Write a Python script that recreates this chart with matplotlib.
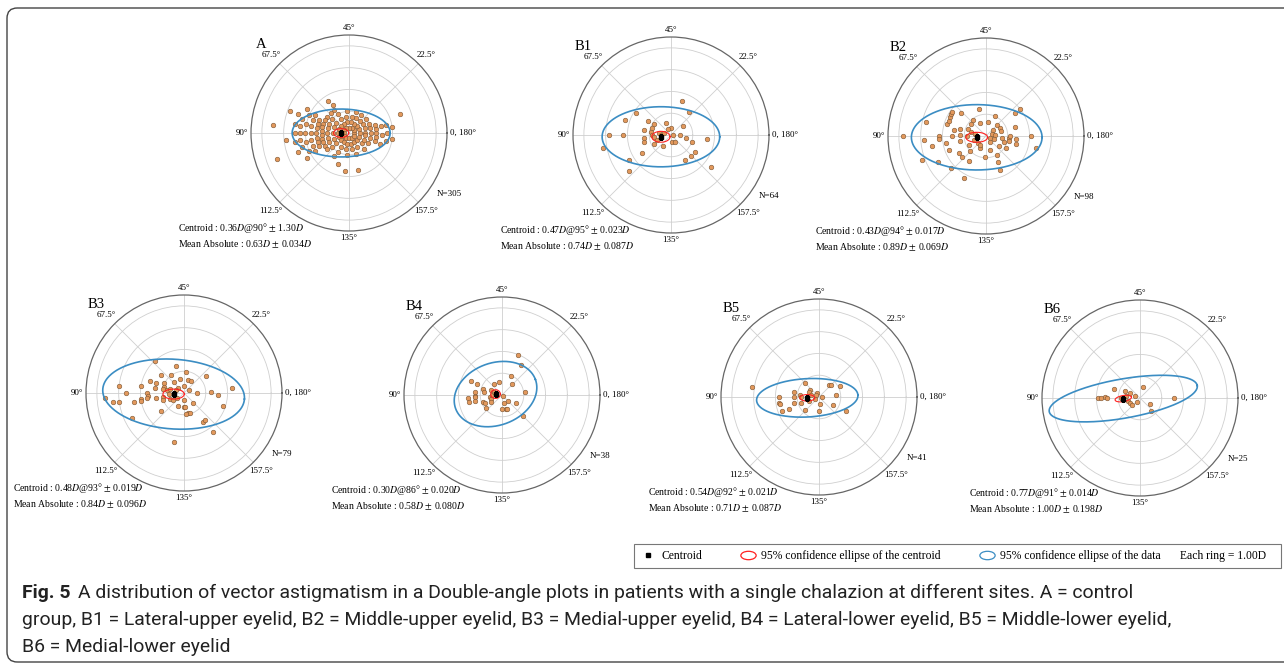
import numpy as np
import matplotlib
matplotlib.use('Agg')
import matplotlib.pyplot as plt
from matplotlib.patches import FancyBboxPatch, Rectangle
from matplotlib.lines import Line2D
from matplotlib.path import Path
from matplotlib.transforms import Affine2D

plt.rcParams['font.family'] = ['Liberation Serif', 'DejaVu Serif']
plt.rcParams['mathtext.fontset'] = 'stix'

W, H = 1284, 666
R = 98          # circle radius in px
RMAX = 4.5      # outer circle in D
RINGS = [1, 2, 3, 4]

# ---- panel summary values ----
names = ['A', 'B1', 'B2', 'B3', 'B4', 'B5', 'B6']
counts = [305, 64, 98, 79, 38, 41, 25]
cen_mag = [0.36, 0.47, 0.43, 0.48, 0.30, 0.54, 0.77]
cen_axis = [90, 95, 94, 93, 86, 92, 91]
cen_err = ['1.30', '0.023', '0.017', '0.019', '0.020', '0.021', '0.014']
mean_abs = ['0.63', '0.74', '0.89', '0.84', '0.58', '0.71', '1.00']
mean_err = ['0.034', '0.087', '0.069', '0.096', '0.080', '0.087', '0.198']

# 95% ellipses (semi axes in D, rotation in deg)
data_ell_a = [2.25, 2.7, 3.0, 3.26, 1.95, 2.33, 3.45]
data_ell_b = [1.1, 1.38, 1.5, 1.6, 1.43, 0.88, 0.9]
data_ell_ang = [0, 0, 0, -4, 20, 3, 10]
cen_ell_a = [0.35, 0.42, 0.5, 0.49, 0.22, 0.34, 0.38]
cen_ell_b = [0.2, 0.25, 0.23, 0.23, 0.2, 0.15, 0.14]
cen_ell_ang = [0, 0, 0, 0, 0, 0, 10]

grid_theta = [0, 45, 90, 135, 180, 225, 270, 315]
grid_text = ['0, 180°', '22.5°', '45°', '67.5°', '90°', '112.5°', '135°', '157.5°']

# ---- individual eyes ----
# control group: (magnitude D, list of axes in deg)
a_rings = [
    (0.25, [0, 15, 30, 45, 60, 75, 90, 105, 120, 135, 150, 165]),
    (0.5, [0, 10, 20, 30, 40, 50, 60, 70, 80, 90, 100, 110, 120, 130, 140, 150, 160, 170]),
    (0.75, [0, 8, 16, 24, 32, 40, 50, 60, 70, 80, 90, 100, 110, 120, 130, 140, 150, 160, 168, 176]),
    (1.0, [0, 6, 12, 20, 28, 36, 48, 60, 70, 78, 84, 90, 96, 102, 110, 120, 132, 144, 156, 166, 174]),
    (1.25, [62, 66, 72, 76, 80, 84, 88, 92, 96, 100, 104, 108, 118, 172, 176, 0, 4, 8]),
    (1.5, [60, 78, 82, 86, 90, 94, 98, 102, 125, 170, 178, 6]),
    (1.75, [61.5, 76, 80, 85, 90, 95, 100, 104, 132, 142, 174, 0, 6]),
    (2.0, [78, 84, 90, 96, 102, 176, 4]),
    (2.25, [75, 82, 86, 90, 94, 98, 105.5]),
    (2.5, [80, 85, 90, 95, 100, 10]),
    (2.9, [80, 93]),
    (3.5, [87, 100]),
]

# chalazion groups: double-angle components (x, y) in D
b1_pts = [(0.51, 1.57), (0.82, 1.05), (-1.60, 1.03), (-2.11, 0.69), (-1.06, 0.65),
          (-0.80, 0.49), (-0.23, 0.57), (0.02, 0.31), (0.55, 0.42), (-1.22, 0.23),
          (-0.88, 0.31), (-0.91, 0.15), (-0.88, 0.00), (-1.22, -0.15), (-1.22, -0.31),
          (-2.86, 0.00), (-2.22, 0.00), (-0.57, 0.08), (-0.45, 0.00), (-0.15, 0.26),
          (0.09, 0.00), (0.40, 0.00), (0.71, -0.12), (0.98, -0.34), (1.66, -0.18),
          (0.05, -0.34), (0.18, -0.31), (-0.37, -0.51), (-0.80, -0.42), (-1.35, -0.82),
          (-3.14, -0.58), (-1.91, -1.15), (-1.92, -1.66), (0.63, -1.15), (0.94, -0.97),
          (1.09, -0.80), (1.82, -1.46), (-0.77, -0.08), (-0.62, -0.23), (-0.31, 0.08)]

b2_pts = [(-3.80, 0.00), (-2.83, -0.18), (-2.77, 0.62), (-2.49, -0.45), (-2.95, -1.11),
          (-2.18, 0.00), (-2.18, -0.15), (-2.22, -1.18), (-1.83, -0.31), (-1.77, 0.54),
          (-1.72, 0.69), (-1.65, 0.86), (-1.60, 1.00), (-1.54, 1.08), (-1.54, 0.00),
          (-1.49, 0.28), (-1.72, -0.65), (-1.60, -1.49), (-1.26, -0.77), (-1.18, 0.31),
          (-1.18, 0.05), (-1.18, -0.23), (-1.15, 1.05), (-1.11, -0.95), (-1.03, -1.95),
          (-0.88, 0.00), (-0.83, 0.31), (-0.77, -0.42), (-0.72, -0.68), (-0.77, -1.15),
          (-0.69, 0.55), (-0.60, 0.74), (-0.34, 1.23), (-0.26, 0.58), (-0.57, -0.18),
          (-0.38, -0.34), (-0.29, -0.57), (-0.26, -0.42), (-0.03, -0.98), (0.09, 0.66),
          (0.20, -0.62), (0.31, 0.28), (0.28, 0.08), (0.43, 0.92), (0.43, 0.05),
          (0.51, 0.51), (0.66, 0.35), (0.69, 0.25), (0.58, -0.46), (0.51, -0.88),
          (0.54, -1.18), (0.66, -1.54), (0.75, -0.11), (0.82, -0.26), (0.94, -0.57),
          (1.05, -0.11), (1.08, 0.00), (1.05, -0.22), (1.31, 0.43), (1.35, 1.05),
          (1.40, -0.15), (1.40, -0.37), (1.58, 1.25), (2.05, 0.00), (2.31, -0.54),
          (0.17, -0.11), (0.35, -0.15), (0.17, -0.28), (-0.68, 0.20), (-0.49, 0.08)]

b3_pts = [(-1.35, 1.45), (-0.37, 1.26), (0.11, 0.95), (1.02, 0.78), (-1.58, 0.57),
          (-1.06, 0.83), (-0.58, 0.83), (-0.17, 0.65), (0.18, 0.60), (0.31, 0.54),
          (-1.97, 0.34), (-1.28, 0.45), (-0.91, 0.45), (-0.45, 0.51), (-0.02, 0.32),
          (-2.97, 0.32), (-0.91, 0.29), (-0.97, 0.17), (-1.32, 0.22), (-0.28, 0.25),
          (-0.35, 0.14), (0.23, 0.14), (0.60, 0.02), (1.25, 0.06), (1.57, -0.09),
          (2.22, 0.25), (-2.66, 0.02), (-1.71, 0.02), (-1.66, -0.14), (-1.68, -0.25),
          (-1.97, -0.29), (-1.97, -0.37), (-2.28, -0.40), (-1.29, -0.25), (-0.97, -0.17),
          (-0.97, -0.32), (-0.66, -0.29), (-0.51, -0.32), (-0.32, -0.25), (-0.02, -0.32),
          (0.42, -0.45), (-0.28, -0.60), (-0.02, -0.63), (0.03, -0.66), (-1.05, -0.82),
          (0.18, -0.91), (0.26, -0.91), (0.08, -0.98), (1.80, -0.60), (-3.63, -0.25),
          (-3.28, -0.43), (-2.97, -0.40), (-2.40, -1.14), (0.85, -1.32), (0.98, -1.25),
          (1.34, -1.78), (-0.45, -2.25), (-0.69, -0.05), (-0.77, 0.12), (-0.62, 0.18)]

b4_pts = [(0.74, 1.82), (0.89, 1.38), (0.40, 0.89), (0.48, 0.49), (1.05, 0.15),
          (-1.42, 0.65), (-1.14, 0.49), (-0.88, 0.29), (-0.83, 0.15), (-1.22, 0.12),
          (-1.22, -0.03), (-1.23, -0.11), (-1.57, -0.12), (-1.52, -0.31), (-1.22, -0.26),
          (-0.88, -0.31), (-0.80, -0.38), (-0.75, -0.58), (-0.57, -0.08), (-0.52, -0.20),
          (-0.52, -0.31), (-0.37, 0.49), (-0.15, 0.58), (-0.49, 0.23), (0.05, -0.03),
          (0.08, -0.35), (0.28, -0.28), (0.63, -0.35), (0.02, -0.66), (0.20, -0.65),
          (0.25, -0.66), (0.97, -0.97), (-0.46, 0.00), (-0.38, 0.12)]

b5_pts = [(-3.09, 0.46), (-0.62, 0.65), (0.46, 0.57), (0.54, 0.54), (0.95, 0.51),
          (-0.43, 0.34), (-0.48, 0.23), (-0.09, 0.20), (-0.15, 0.11), (0.77, 0.11),
          (-1.15, 0.23), (-1.82, 0.00), (-1.15, 0.00), (-0.85, 0.11), (-0.82, 0.00),
          (0.15, 0.00), (-1.82, -0.28), (-1.78, -0.34), (-1.17, -0.28), (-0.82, -0.28),
          (-0.46, -0.20), (-0.17, -0.08), (0.03, -0.31), (0.65, -0.38), (-1.38, -0.54),
          (-1.69, -0.66), (-0.63, -0.58), (0.00, -0.65), (1.26, -0.65), (-0.54, -0.08),
          (-0.38, 0.08)]

b6_pts = [(-1.94, 0.00), (-1.62, 0.03), (-1.77, 0.00), (-1.51, 0.00), (-1.20, 0.43),
          (-0.69, 0.31), (-0.46, 0.23), (-0.23, 0.08), (-0.54, -0.12), (-0.46, -0.23),
          (-0.38, -0.31), (-0.15, -0.20), (0.12, 0.51), (0.46, -0.26), (0.51, -0.58),
          (1.54, 0.00), (-0.85, 0.00), (-0.62, 0.08), (-0.77, -0.08)]

# ---- layout (px, from top-left) ----
panel_cx = [349, 671, 986, 184, 502, 819, 1140]
panel_cy = [133, 135, 136, 393, 395, 397, 398]


def ellipse_polar(cx, cy, a, b, ang):
    t = np.linspace(0, 2 * np.pi, 361)
    phi = np.radians(ang)
    x = cx + a * np.cos(t) * np.cos(phi) - b * np.sin(t) * np.sin(phi)
    y = cy + a * np.cos(t) * np.sin(phi) + b * np.sin(t) * np.cos(phi)
    return np.unwrap(np.arctan2(y, x)), np.hypot(x, y)


# points of every panel as (theta, r)
pts_polar = []
th, rr = [], []
for mag, axes in a_rings:
    for a in axes:
        th.append(np.radians(2 * a))
        rr.append(mag)
pts_polar.append((np.array(th), np.array(rr)))
for pts in [b1_pts, b2_pts, b3_pts, b4_pts, b5_pts, b6_pts]:
    p = np.array(pts)
    pts_polar.append((np.arctan2(p[:, 1], p[:, 0]), np.hypot(p[:, 0], p[:, 1])))

fig = plt.figure(figsize=(W / 100, H / 100), dpi=100)

for k in range(7):
    cx, cy = panel_cx[k], panel_cy[k]
    ax = fig.add_axes([(cx - R) / W, (H - cy - R) / H, 2 * R / W, 2 * R / H],
                      projection='polar')
    ax.set_ylim(0, RMAX)
    ax.set_yticks(RINGS)
    ax.set_yticklabels([])
    ax.set_xticks(np.radians(grid_theta))
    ax.set_xticklabels([])
    ax.grid(True, color='#cfcfcf', lw=0.6)
    ax.spines['polar'].set_color('#666666')
    ax.spines['polar'].set_linewidth(0.9)
    ax.tick_params(length=0)

    th, rr = pts_polar[k]
    ax.scatter(th, rr, s=11, c='#e2985c', edgecolors='#7a5533', linewidths=0.4, zorder=3)

    ca = np.radians(2 * cen_axis[k])
    ccx, ccy = cen_mag[k] * np.cos(ca), cen_mag[k] * np.sin(ca)
    et, er = ellipse_polar(ccx, ccy, data_ell_a[k], data_ell_b[k], data_ell_ang[k])
    ax.plot(et, er, color='#3b8dc3', lw=1.2, zorder=4)
    et, er = ellipse_polar(ccx, ccy, cen_ell_a[k], cen_ell_b[k], cen_ell_ang[k])
    ax.plot(et, er, color='#ff2020', lw=0.8, zorder=5)
    ax.plot([ca], [cen_mag[k]], marker='s', ms=3.2, color='black', ls='none', zorder=6)

    # angle labels
    for g, s in zip(grid_theta, grid_text):
        gr = np.radians(g)
        if g == 0:
            ax.text(gr, RMAX * 1.03, s, ha='left', va='center', fontsize=6.5)
        elif g == 180:
            ax.text(gr, RMAX * 1.03, s, ha='right', va='center', fontsize=6.5)
        elif g == 90:
            ax.text(gr, RMAX * 1.03, s, ha='center', va='bottom', fontsize=6.5)
        elif g == 270:
            ax.text(gr, RMAX * 1.03, s, ha='center', va='top', fontsize=6.5)
        else:
            ax.text(gr, RMAX * 1.12, s, ha='center', va='center', fontsize=6.5)

    ax.text(0.05, 0.95, names[k], transform=ax.transAxes, ha='center', va='center',
            fontsize=10.5)
    ax.text(0.95, 0.19, 'N=%d' % counts[k], transform=ax.transAxes, ha='left',
            va='center', fontsize=6.5)
    ax.text(-0.37, 0.015,
            'Centroid : %.2f$D$@%d° $\\pm$ %s$D$' % (cen_mag[k], cen_axis[k], cen_err[k]),
            transform=ax.transAxes, ha='left', va='center', fontsize=7)
    ax.text(-0.37, -0.066,
            'Mean Absolute : %s$D$ $\\pm$ %s$D$' % (mean_abs[k], mean_err[k]),
            transform=ax.transAxes, ha='left', va='center', fontsize=7)

# legend box
fig.add_artist(Rectangle((634 / W, 1 - 568 / H), (1281 - 634) / W, 24 / H,
                         transform=fig.transFigure, fill=False, ec='#777777', lw=0.8))
ell_marker = Affine2D().scale(1.0, 0.55).transform_path(Path.unit_circle())
handles = [
    Line2D([], [], marker='s', ms=3, color='black', ls='none'),
    Line2D([], [], marker=ell_marker, ms=11, mfc='none', mec='#ff2020', mew=0.9, ls='none'),
    Line2D([], [], marker=ell_marker, ms=11, mfc='none', mec='#3b8dc3', mew=0.9, ls='none'),
]
labels = ['Centroid', '95% confidence ellipse of the centroid', '95% confidence ellipse of the data']
fig.legend(handles, labels, loc='center left', bbox_to_anchor=(640 / W, 1 - 556 / H),
           ncol=3, frameon=False, fontsize=8.4, handlelength=1.4, handletextpad=0.4,
           columnspacing=3.3, borderpad=0, borderaxespad=0)
fig.text(1180 / W, 1 - 556 / H, 'Each ring = 1.00D', ha='left', va='center', fontsize=8.4)

# outer frame
fig.add_artist(FancyBboxPatch((7 / W, 4 / H), 1.05, (662 - 8) / H,
                              boxstyle='round,pad=0,rounding_size=0.008',
                              mutation_aspect=W / H, transform=fig.transFigure,
                              fill=False, ec='#444444', lw=1.0))

# caption (size fitted so that line 1 ends where the reference does)
cap_font = ['Roboto', 'DejaVu Sans']
cap1 = ('A distribution of vector astigmatism in a Double-angle plots in patients with a '
        'single chalazion at different sites. A = control')
cap2 = ('group, B1 = Lateral-upper eyelid, B2 = Middle-upper eyelid, B3 = Medial-upper eyelid, '
        'B4 = Lateral-lower eyelid, B5 = Middle-lower eyelid,')
cap3 = 'B6 = Medial-lower eyelid'
cap_size = 12.0
for _ in range(3):
    t0 = fig.text(22 / W, 1 - 593 / H, 'Fig. 5', fontsize=cap_size, fontweight='bold',
                  family=cap_font, va='center', color='#222222')
    fig.canvas.draw()
    x1 = t0.get_window_extent().x1
    t1 = fig.text((x1 + 8) / W, 1 - 593 / H, cap1, fontsize=cap_size, family=cap_font,
                  va='center', color='#222222')
    fig.canvas.draw()
    end = t1.get_window_extent().x1
    t0.remove()
    t1.remove()
    cap_size *= (1140 - 22) / (end - 22)

t0 = fig.text(22 / W, 1 - 593 / H, 'Fig. 5', fontsize=cap_size, fontweight='bold',
              family=cap_font, va='center', color='#222222')
fig.canvas.draw()
x1 = t0.get_window_extent().x1
fig.text((x1 + 8) / W, 1 - 593 / H, cap1, fontsize=cap_size, family=cap_font,
         va='center', color='#222222')
fig.text(22 / W, 1 - 620 / H, cap2, fontsize=cap_size, family=cap_font, va='center',
         color='#222222')
fig.text(22 / W, 1 - 647 / H, cap3, fontsize=cap_size, family=cap_font, va='center',
         color='#222222')

fig.savefig('out.png', dpi=100)
